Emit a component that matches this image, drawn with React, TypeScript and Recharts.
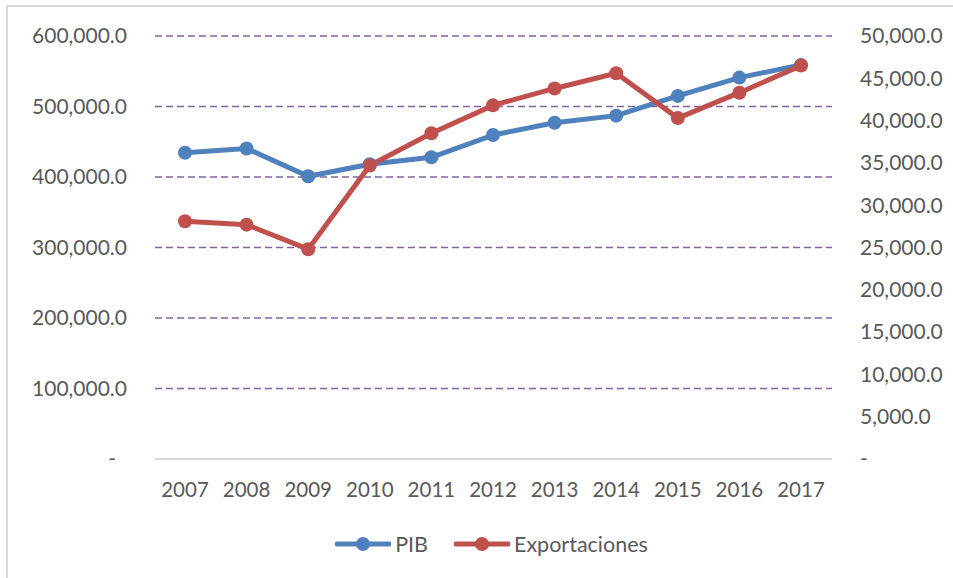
import React from "react";
import { LineChart, Line, XAxis, YAxis, CartesianGrid, Legend } from "recharts";

const years = ["2007", "2008", "2009", "2010", "2011", "2012", "2013", "2014", "2015", "2016", "2017"];
const pib = [434500, 440500, 401000, 418000, 428000, 459500, 477000, 487000, 515000, 541000, 559000];
const exportaciones = [28100, 27700, 24800, 34700, 38500, 41800, 43800, 45600, 40300, 43300, 46500];
const leftTicks = [0, 100000, 200000, 300000, 400000, 500000, 600000];
const rightTicks = [0, 5000, 10000, 15000, 20000, 25000, 30000, 35000, 40000, 45000, 50000];
const gridValues = [100000, 200000, 300000, 400000, 500000, 600000];

const data = years.map((y, i) => ({ year: y, PIB: pib[i], Exportaciones: exportaciones[i] }));

const FONT = "Lato, 'Open Sans', sans-serif";
const TEXT = "#595959";
const BLUE = "#4F81BD";
const RED = "#C0504D";

const fmt = (v: number) =>
  v.toLocaleString("en-US", { minimumFractionDigits: 1, maximumFractionDigits: 1 });

const LeftTick = (props: any) => {
  const { x, y, payload } = props;
  const v = payload.value as number;
  return (
    <text x={v === 0 ? x - 11 : x} y={y} dy="0.35em" textAnchor="end" fill={TEXT} fontSize={21} fontFamily={FONT}>
      {v === 0 ? "-" : fmt(v)}
    </text>
  );
};

const RightTick = (props: any) => {
  const { x, y, payload } = props;
  const v = payload.value as number;
  return (
    <text x={x} y={y} dy="0.35em" textAnchor="start" fill={TEXT} fontSize={21} fontFamily={FONT}>
      {v === 0 ? "-" : fmt(v)}
    </text>
  );
};

const XTick = (props: any) => {
  const { x, y, payload } = props;
  return (
    <text x={x} y={y} dy="0.35em" textAnchor="middle" fill={TEXT} fontSize={20.5} fontFamily={FONT}>
      {payload.value}
    </text>
  );
};

const LegendContent = () => {
  const items = [
    { name: "PIB", color: BLUE },
    { name: "Exportaciones", color: RED },
  ];
  return (
    <div style={{ display: "flex", justifyContent: "center", alignItems: "center", height: 30, gap: 26, paddingLeft: 30 }}>
      {items.map((it) => (
        <div key={it.name} style={{ display: "flex", alignItems: "center" }}>
          <svg width={56} height={16} style={{ marginRight: 4 }}>
            <line x1={2} y1={8} x2={54} y2={8} stroke={it.color} strokeWidth={5} strokeLinecap="round" />
            <circle cx={28} cy={8} r={7} fill={it.color} />
          </svg>
          <span style={{ color: TEXT, fontSize: 21.5, fontFamily: FONT, lineHeight: "30px" }}>{it.name}</span>
        </div>
      ))}
    </div>
  );
};

export default function App() {
  return (
    <div style={{ position: "absolute", left: 0, top: 0, width: 953, height: 578, overflow: "hidden", background: "#fff" }}>
      <div
        style={{
          position: "absolute",
          left: 6,
          top: 5,
          width: 980,
          height: 620,
          border: "2px solid #D9D9D9",
          boxSizing: "border-box",
        }}
      />
      <div style={{ position: "absolute", left: 0, top: 0 }}>
        <LineChart width={953} height={578} data={data} margin={{ top: 36, right: 0, bottom: 49, left: 0 }}>
          <CartesianGrid
            yAxisId="left"
            vertical={false}
            horizontalValues={gridValues}
            stroke="#8064A2"
            strokeWidth={1.5}
            strokeDasharray="7 4"
          />
          <XAxis
            dataKey="year"
            height={40}
            padding={{ left: 30, right: 31 }}
            axisLine={{ stroke: "#D9D9D9", strokeWidth: 2 }}
            tickLine={false}
            tickSize={0}
            tickMargin={31}
            tick={<XTick />}
            interval={0}
          />
          <YAxis
            yAxisId="left"
            orientation="left"
            width={155}
            domain={[0, 600000]}
            ticks={leftTicks}
            axisLine={false}
            tickLine={false}
            tickSize={0}
            tickMargin={28}
            tick={<LeftTick />}
            interval={0}
          />
          <YAxis
            yAxisId="right"
            orientation="right"
            width={121}
            domain={[0, 50000]}
            ticks={rightTicks}
            axisLine={false}
            tickLine={false}
            tickSize={0}
            tickMargin={28}
            tick={<RightTick />}
            interval={0}
          />
          <Legend
            verticalAlign="bottom"
            content={<LegendContent />}
            wrapperStyle={{ top: 529, left: 0, width: 953, height: 30 }}
          />
          <Line
            yAxisId="left"
            dataKey="PIB"
            name="PIB"
            stroke={BLUE}
            strokeWidth={5}
            dot={{ r: 7, fill: BLUE, stroke: "none" }}
            activeDot={false}
            isAnimationActive={false}
          />
          <Line
            yAxisId="right"
            dataKey="Exportaciones"
            name="Exportaciones"
            stroke={RED}
            strokeWidth={5}
            dot={{ r: 7, fill: RED, stroke: "none" }}
            activeDot={false}
            isAnimationActive={false}
          />
        </LineChart>
      </div>
    </div>
  );
}
